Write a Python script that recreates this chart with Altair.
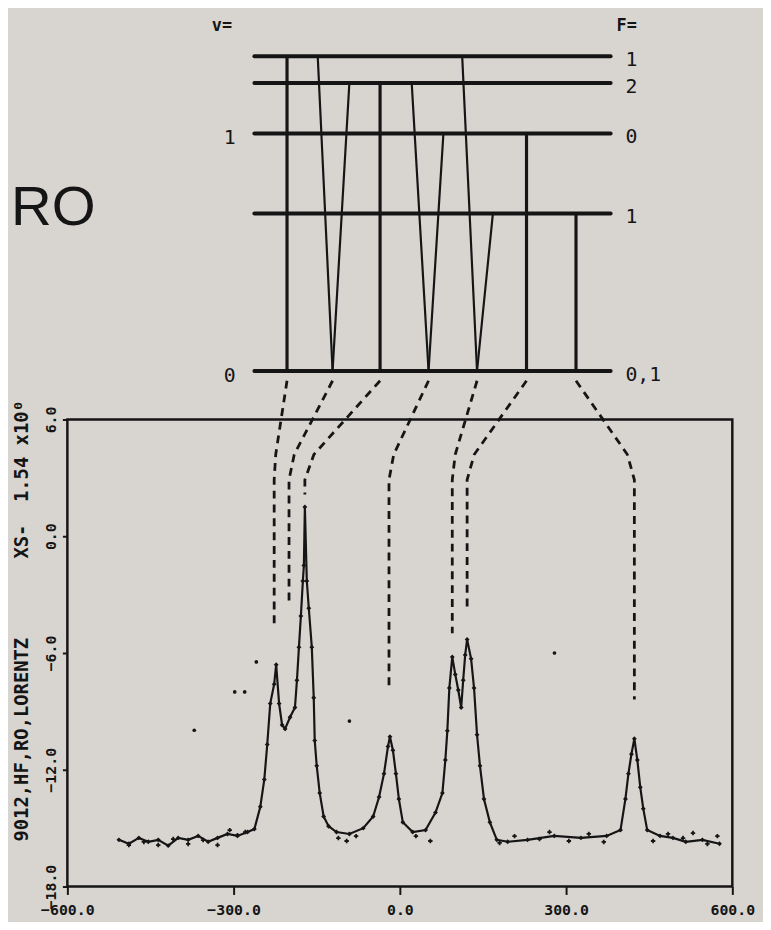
import altair as alt
import pandas as pd

INK = "#151515"
BG = "#d8d5d1"
MONO = "DejaVu Sans Mono"

# ---------------- spectrum ----------------
spec_x = [-507, -489, -471, -454, -436, -418, -400, -382, -364, -346, -329, -311, -293, -275,
          -262.5, -251.8, -244.6, -239.3, -233.9, -226.8, -223.2, -217.9, -212.5, -207.1,
          -198.2, -189.3, -185.7, -182.1, -178.6, -175.0, -173.2, -171.4, -167.9, -164.3,
          -158.9, -155.4, -153.6, -150.0, -144.6, -137.5, -128.6, -114.3, -91.1, -66.1,
          -48.2, -37.5, -28.6, -21.4, -17.9, -12.5, -7.1, -1.8, 5.4, 23.2, 46.4, 64.3,
          76.8, 82.1, 85.7, 89.3, 94.6, 100.0, 105.4, 110.7, 114.3, 117.9, 121.4, 128.6,
          133.9, 139.3, 144.6, 151.8, 162.5, 175.0, 194.6, 230.4, 278.6, 326.8, 373.2,
          398.2, 407.1, 412.5, 417.9, 423.2, 428.6, 433.9, 439.3, 446.4, 469.6, 492.9,
          516.0, 546.0, 576.8]
spec_y = [-15.6, -15.8, -15.5, -15.7, -15.6, -15.9, -15.5, -15.6, -15.4, -15.7, -15.5, -15.3,
          -15.4, -15.2, -15.05, -13.9, -12.5, -10.7, -8.6, -7.6, -6.6, -8.6, -9.7, -9.9,
          -9.3, -8.8, -7.4, -5.7, -4.1, -2.3, -1.5, 1.5, -2.3, -3.7, -5.7, -8.3, -10.5,
          -11.8, -13.2, -14.4, -14.9, -15.2, -15.3, -15.0, -14.4, -13.4, -12.2, -10.8,
          -10.3, -11.0, -12.2, -13.5, -14.7, -15.2, -15.1, -14.2, -13.2, -11.5, -10.0,
          -7.8, -6.2, -7.1, -7.9, -8.8, -7.4, -6.1, -5.3, -6.3, -7.8, -10.2, -11.8, -13.5,
          -14.7, -15.6, -15.7, -15.6, -15.4, -15.5, -15.4, -15.1, -13.5, -12.2, -11.2,
          -10.4, -11.5, -12.9, -14.0, -15.1, -15.4, -15.5, -15.7, -15.6, -15.8]

# scattered baseline data points
noise_x = [-489, -462, -436, -409, -382, -355, -329, -307, -293, -279, -111, -96, -79, 29, 55,
           180, 207, 252, 270, 305, 341, 368, 457, 484, 511, 529, 555, 573]
noise_y = [-15.87, -15.71, -15.87, -15.56, -15.81, -15.61, -15.87, -15.1, -15.36, -15.2,
           -15.51, -15.66, -15.41, -15.41, -15.66, -15.76, -15.41, -15.56, -15.2, -15.66,
           -15.3, -15.71, -15.66, -15.3, -15.51, -15.25, -15.81, -15.41]

# stray specks on the scan
speck_x = [-259, -371, -91, 279, -298, -280]
speck_y = [-6.46, -9.97, -9.5, -6.0, -8.0, -8.0]

# ---------------- energy level diagram ----------------
level_y = [24.66, 23.29, 20.69, 16.58, 8.49]
F_labels = ["1", "2", "0", "1", "0,1"]
v_labels = ["1", "0"]
v_level = [2, 4]

# transition legs: (x at upper level, upper level index, x at ground level, heavy?)
leg_top_x = [-203.6, -148.2, -91.1, -35.7, 21.4, 78.6, 112.5, 167.9, 228.6, 317.9]
leg_level = [0, 0, 1, 1, 1, 2, 0, 3, 2, 3]
leg_bot_x = [-203.6, -121.4, -121.4, -35.7, 51.8, 51.8, 139.3, 139.3, 228.6, 317.9]
leg_heavy = [1, 0, 0, 1, 0, 0, 0, 0, 1, 1]

# connectors from each line at the ground level to its peak
ground_x = [-203.6, -121.4, -35.7, 51.8, 139.3, 228.6, 317.9]
peak_x = [-226.8, -200.0, -171.4, -19.6, 94.6, 121.4, 423.2]
dash_end = [-4.73, -3.36, 2.14, -7.78, -4.98, -3.86, -8.39]

# ---------------- build tables ----------------
LEVEL_X0, LEVEL_X1 = -262.5, 380.4
X_DOM = [-600, 600]
Y_DOM = [-18, 26.795]

spec = pd.DataFrame({"x": spec_x, "y": spec_y})
noise = pd.DataFrame({"x": noise_x, "y": noise_y})
specks = pd.DataFrame({"x": speck_x, "y": speck_y})
levels = pd.DataFrame({"y": level_y, "x0": LEVEL_X0, "x1": LEVEL_X1, "F": F_labels})
legs = pd.DataFrame({
    "x": leg_top_x,
    "y": [level_y[i] for i in leg_level],
    "x2": leg_bot_x,
    "y2": level_y[4],
    "w": ["heavy" if h else "thin" for h in leg_heavy],
})
vlab = pd.DataFrame({"t": v_labels, "y": [level_y[i] for i in v_level]})

rows = []
for i, (g, p, e) in enumerate(zip(ground_x, peak_x, dash_end)):
    pts = [(g, level_y[4] - 0.5), (p + 0.12 * (g - p), 4.2), (p, 2.9), (p, e)]
    for k, (xx, yy) in enumerate(pts):
        rows.append({"id": i, "k": k, "x": xx, "y": yy})
conn = pd.DataFrame(rows)

frame = pd.DataFrame({"x": [X_DOM[0]], "x2": [X_DOM[1]], "y": [-18], "y2": [6]})

xs = alt.Scale(domain=X_DOM, nice=False, zero=False)
ys = alt.Scale(domain=Y_DOM, nice=False, zero=False)

title_txt = ("9012,HF,RO,LORENTZ" + "\u00a0" * 7 + "XS-" + "\u00a0" * 2 + "1.54 x10\u2070")

frame_layer = alt.Chart(frame).mark_rect(fillOpacity=0, stroke=INK, strokeWidth=2.5).encode(
    x=alt.X("x:Q", scale=xs, axis=alt.Axis(values=[-600, -300, 0, 300, 600], format=".1f",
                                           title=None, domain=False, grid=False, tickSize=8,
                                           tickWidth=2, tickColor=INK, labelColor=INK,
                                           labelFont=MONO, labelFontSize=15,
                                           labelFontWeight="bold", labelPadding=8,
                                           labelFlush=False)),
    x2="x2:Q",
    y=alt.Y("y:Q", scale=ys, axis=alt.Axis(values=[-18, -12, -6, 0, 6], format=".1f",
                                           title=title_txt, domain=False, grid=False,
                                           tickSize=5, tickWidth=2, tickColor=INK,
                                           labelColor=INK, labelFont=MONO, labelFontSize=15,
                                           labelFontWeight="bold", labelAngle=-90,
                                           labelAlign="center", labelBaseline="bottom",
                                           labelPadding=4, labelFlush=False,
                                           titleFont=MONO, titleFontSize=19,
                                           titleFontWeight="bold", titleColor=INK,
                                           titleAngle=-90, titleX=-46, titleY=612,
                                           titleAlign="center", titleBaseline="middle")),
    y2="y2:Q",
)

level_layer = alt.Chart(levels).mark_rule(color=INK, strokeWidth=4, strokeCap="round").encode(
    x=alt.X("x0:Q", scale=xs), x2="x1:Q", y=alt.Y("y:Q", scale=ys))

legs_layer = alt.Chart(legs).mark_rule(color=INK, strokeCap="round").encode(
    x=alt.X("x:Q", scale=xs), y=alt.Y("y:Q", scale=ys), x2="x2:Q", y2="y2:Q",
    strokeWidth=alt.StrokeWidth("w:N", scale=alt.Scale(domain=["heavy", "thin"], range=[3.2, 2.2]),
                                legend=None))

conn_layer = alt.Chart(conn).mark_line(color=INK, strokeWidth=2.8, strokeDash=[8, 6]).encode(
    x=alt.X("x:Q", scale=xs), y=alt.Y("y:Q", scale=ys), detail="id:N", order="k:Q")

spec_line = alt.Chart(spec).mark_line(color=INK, strokeWidth=2.2).encode(
    x=alt.X("x:Q", scale=xs), y=alt.Y("y:Q", scale=ys))
spec_pts = alt.Chart(spec).mark_point(filled=True, shape="diamond", size=24, color=INK, opacity=1).encode(
    x=alt.X("x:Q", scale=xs), y=alt.Y("y:Q", scale=ys))
noise_pts = alt.Chart(noise).mark_point(shape="cross", filled=True, size=20, color=INK, opacity=1).encode(
    x=alt.X("x:Q", scale=xs), y=alt.Y("y:Q", scale=ys))
speck_pts = alt.Chart(specks).mark_circle(size=14, color=INK, opacity=1).encode(
    x=alt.X("x:Q", scale=xs), y=alt.Y("y:Q", scale=ys))

F_text = alt.Chart(levels).mark_text(font=MONO, fontSize=20, color=INK, align="left",
                                     baseline="middle", dx=0, dy=4).encode(
    x=alt.value(564), y=alt.Y("y:Q", scale=ys), text="F:N")
v_text = alt.Chart(vlab).mark_text(font=MONO, fontSize=20, color=INK, align="center",
                                   baseline="middle", dy=5).encode(
    x=alt.value(164), y=alt.Y("y:Q", scale=ys), text="t:N")
head = pd.DataFrame({"t": ["v=", "F="], "px": [146, 555]})
head_text = alt.Chart(head).mark_text(font=MONO, fontSize=17, fontWeight="bold", color=INK,
                                      align="left", baseline="middle").encode(
    x=alt.X("px:Q", scale=None), y=alt.value(11), text="t:N")
ro = pd.DataFrame({"t": ["RO"]})
ro_text = alt.Chart(ro).mark_text(font="Liberation Sans", fontSize=57, color=INK,
                                  align="left", baseline="middle").encode(
    x=alt.value(-57), y=alt.value(195), text="t:N")

chart = alt.layer(
    frame_layer, level_layer, legs_layer, conn_layer, spec_line, spec_pts, noise_pts,
    speck_pts, F_text, v_text, head_text, ro_text,
).properties(
    width=672, height=881, background=BG,
    padding={"left": 60, "top": 2, "right": 31, "bottom": 31},
    autosize=alt.AutoSizeParams(type="none"),
).configure_view(strokeWidth=0)

chart.save("out.html", embed_options={"renderer": "svg", "actions": False})
